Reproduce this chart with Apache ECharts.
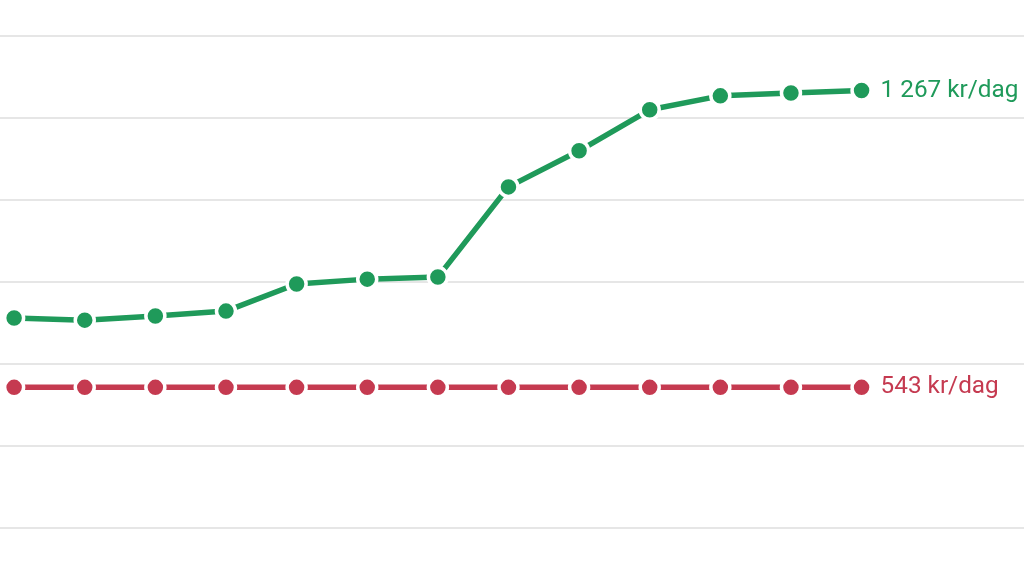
<!DOCTYPE html>
<html>
<head>
<meta charset="utf-8">
<script src="https://cdn.jsdelivr.net/npm/echarts@6/dist/echarts.min.js"></script>
<style>
  html, body { margin: 0; padding: 0; background: #fff; }
  #chart { width: 1024px; height: 579px; }
</style>
</head>
<body>
<div id="chart"></div>
<script>
// dagpenger / inntekt per dag, 13 perioder
var periods = [0, 1, 2, 3, 4, 5, 6, 7, 8, 9, 10, 11, 12]
var greenValues = [712, 707, 717, 729, 795, 807, 812, 1032, 1120, 1220, 1254, 1261, 1267]
var redValues = [543, 543, 543, 543, 543, 543, 543, 543, 543, 543, 543, 543, 543]
var greenLabel = '1 267 kr/dag'
var redLabel = '543 kr/dag'

var GREEN = '#1f9a5a'
var RED = '#c53a50'

function pairs(vals) {
  return vals.map(function (v, i) { return [periods[i], v] })
}

function makeSeries(vals, color, label) {
  return {
    type: 'line',
    data: pairs(vals),
    symbol: 'circle',
    symbolSize: 19,
    showAllSymbol: true,
    lineStyle: { color: color, width: 5.5 },
    itemStyle: { color: color, borderColor: '#fff', borderWidth: 3.5 },
    endLabel: {
      show: true,
      formatter: label,
      color: color,
      fontFamily: 'Roboto',
      fontSize: 24.3,
      distance: 19
    },
    emphasis: { disabled: true },
    animation: false
  }
}

var chart = echarts.init(document.getElementById('chart'))
chart.setOption({
  backgroundColor: '#fff',
  grid: { left: 0, right: 0, top: 36, bottom: 51 },
  xAxis: {
    type: 'value',
    min: -0.2,
    max: 14.3,
    show: false
  },
  yAxis: {
    type: 'value',
    min: 200,
    max: 1400,
    interval: 200,
    axisLine: { show: false },
    axisTick: { show: false },
    axisLabel: { show: false },
    splitLine: { lineStyle: { color: '#e6e6e6', width: 2 } }
  },
  series: [
    makeSeries(greenValues, GREEN, greenLabel),
    makeSeries(redValues, RED, redLabel)
  ]
})
</script>
</body>
</html>
